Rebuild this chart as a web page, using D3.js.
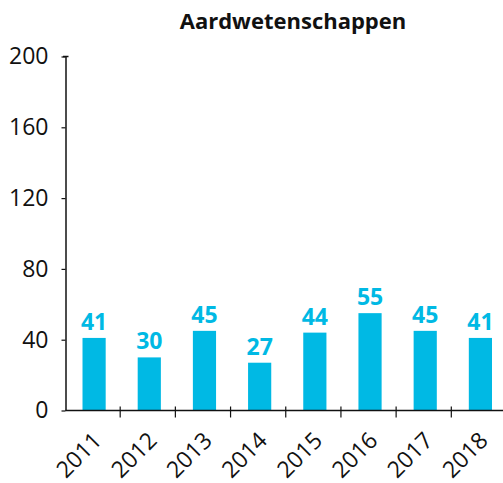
<!DOCTYPE html>
<html>
<head>
<meta charset="utf-8">
<script src="https://cdn.jsdelivr.net/npm/d3@7"></script>
<style>
  body { margin: 0; background: #fff; }
  svg { display: block; font-family: "Open Sans", "Noto Sans", sans-serif; }
</style>
</head>
<body>
<svg id="chart"></svg>
<script>
const title = 'Aardwetenschappen';
const years = ['2011', '2012', '2013', '2014', '2015', '2016', '2017', '2018'];
const values = [41, 30, 45, 27, 44, 55, 45, 41];
const yTicks = [0, 40, 80, 120, 160, 200];

const width = 503, height = 483;
const barColor = '#00B9E4';
const font = '"Open Sans", "Noto Sans", sans-serif';

const svg = d3.select('#chart')
  .attr('width', width)
  .attr('height', height);

// scales
const x = d3.scaleBand()
  .domain(years)
  .range([65.5, 507])
  .padding(0);

const y = d3.scaleLinear()
  .domain([0, 200])
  .range([410.5, 56.5]);

const barW = x.step() * 0.42;

// title
svg.append('text')
  .attr('x', 293)
  .attr('y', 29)
  .attr('text-anchor', 'middle')
  .style('font-size', '22px')
  .style('font-weight', 'bold')
  .style('fill', '#111')
  .text(title);

// bars
svg.selectAll('rect.bar')
  .data(values)
  .enter()
  .append('rect')
  .attr('class', 'bar')
  .attr('x', (d, i) => x(years[i]) + (x.step() - barW) / 2 + 1)
  .attr('y', d => y(d))
  .attr('width', barW)
  .attr('height', d => y(0) - y(d))
  .style('fill', barColor);

// value labels
svg.selectAll('text.val')
  .data(values)
  .enter()
  .append('text')
  .attr('class', 'val')
  .attr('x', (d, i) => x(years[i]) + x.step() / 2 + 1)
  .attr('y', d => y(d) - 8)
  .attr('text-anchor', 'middle')
  .style('font-size', '23px')
  .style('font-weight', 'bold')
  .style('fill', barColor)
  .text(d => d);

// y axis
const yAxis = d3.axisLeft(y)
  .tickValues(yTicks)
  .tickSize(4)
  .tickPadding(13)
  .tickSizeOuter(0);

const gy = svg.append('g')
  .attr('transform', 'translate(65.5,0)')
  .call(yAxis);
gy.select('.domain').attr('stroke', '#111').attr('stroke-width', 1.5);
gy.selectAll('.tick line').attr('stroke', '#111').attr('stroke-width', 1.2);
gy.selectAll('.tick text')
  .style('font-size', '23px')
  .style('font-family', font)
  .style('fill', '#111');
// small cap at top of axis
gy.append('line')
  .attr('x1', -2.5).attr('x2', 3)
  .attr('y1', y(200)).attr('y2', y(200))
  .attr('stroke', '#111').attr('stroke-width', 1.5);

// x axis line
svg.append('line')
  .attr('x1', 65.5).attr('x2', width)
  .attr('y1', y(0)).attr('y2', y(0))
  .attr('stroke', '#111').attr('stroke-width', 1.5);

// category separators
svg.selectAll('line.sep')
  .data(years.slice(1))
  .enter()
  .append('line')
  .attr('class', 'sep')
  .attr('x1', d => x(d) - 0.5)
  .attr('x2', d => x(d) - 0.5)
  .attr('y1', y(0) - 4)
  .attr('y2', y(0) + 7)
  .attr('stroke', '#111')
  .attr('stroke-width', 1.2);

// year labels
svg.selectAll('text.year')
  .data(years)
  .enter()
  .append('text')
  .attr('class', 'year')
  .attr('text-anchor', 'end')
  .attr('transform', d => 'translate(' + (x(d) + x.step() / 2 + 10) + ',' + 442 + ') rotate(-45)')
  .style('font-size', '23px')
  .style('fill', '#111')
  .text(d => d);
</script>
</body>
</html>
